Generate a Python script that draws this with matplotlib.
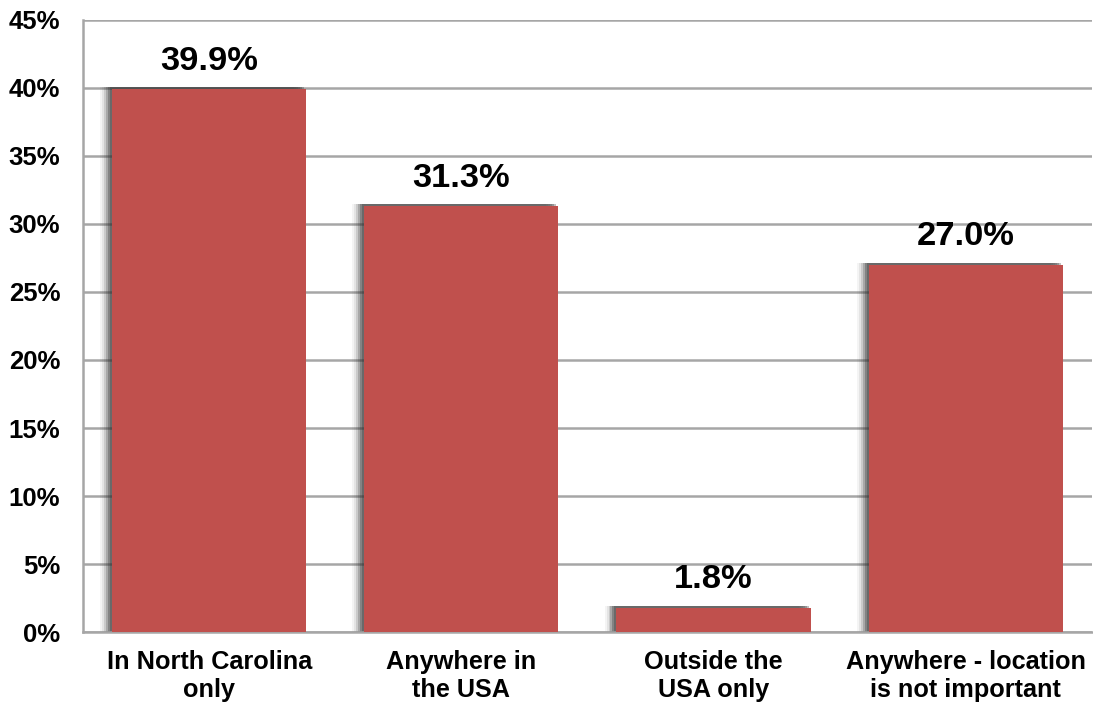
import matplotlib.pyplot as plt
import numpy as np

categories = ["In North Carolina\nonly", "Anywhere in\nthe USA", "Outside the\nUSA only",
              "Anywhere - location\nis not important"]
shares = [39.9, 31.3, 1.8, 27.0]
y_ticks = [0, 5, 10, 15, 20, 25, 30, 35, 40, 45]

BAR_COLOR = "#C0504D"
GRID_COLOR = "#A6A6A6"

plt.rcParams["font.family"] = ["Liberation Sans", "DejaVu Sans"]
plt.rcParams["font.weight"] = "bold"

fig = plt.figure(figsize=(10.93, 7.04), dpi=100)
ax = fig.add_axes([0.076, 0.102, 0.923, 0.870])

x = np.arange(len(categories))
width = 0.77
px = 1.0 / 252.5  # one pixel in x data units

# soft drop shadow on the left side of each bar
for k, alpha in zip([12, 10, 8, 6, 4, 2], [0.05, 0.08, 0.14, 0.22, 0.30, 0.30]):
    ax.bar(x - k * px, [v + 0.15 for v in shares], width=width, color="#303030",
           alpha=alpha, linewidth=0, zorder=2)

bars = ax.bar(x, shares, width=width, color=BAR_COLOR, linewidth=0, zorder=3)

for xi, v in zip(x, shares):
    ax.annotate(f"{v:.1f}%", (xi, v), xytext=(0, 20), textcoords="offset points",
                ha="center", va="center", fontsize=24.8, fontweight="bold")

ax.set_xlim(-0.5, len(categories) - 0.5)
ax.set_ylim(0, 45)
ax.set_yticks(y_ticks)
ax.set_yticklabels([f"{t}%" for t in y_ticks], fontsize=18.5, fontweight="bold")
ax.set_xticks(x)
ax.set_xticklabels(categories, fontsize=18.2, fontweight="bold", linespacing=1.2)
ax.tick_params(axis="both", length=0)
ax.tick_params(axis="y", pad=16.5)
ax.tick_params(axis="x", pad=13)

ax.yaxis.grid(True, color=GRID_COLOR, linewidth=1.8, zorder=0)
ax.set_axisbelow(True)
for side in ["top", "right"]:
    ax.spines[side].set_visible(False)
for side in ["left", "bottom"]:
    ax.spines[side].set_color(GRID_COLOR)
    ax.spines[side].set_linewidth(1.8)

fig.savefig("out.png", dpi=100)
